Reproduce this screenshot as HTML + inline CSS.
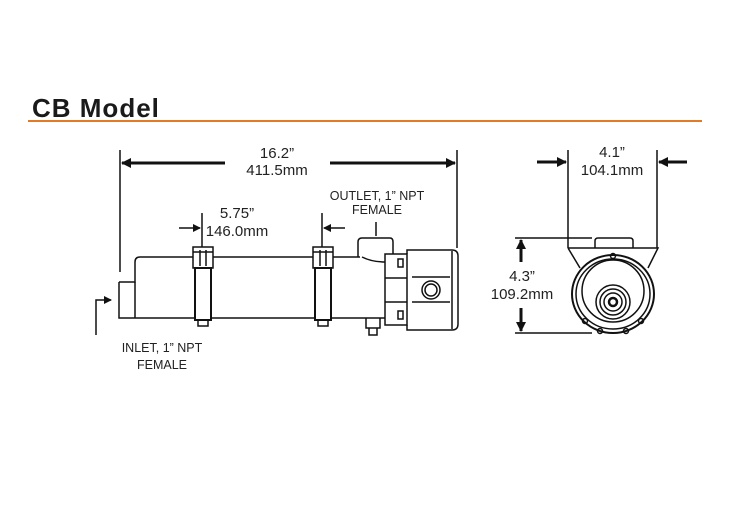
<!DOCTYPE html>
<html><head><meta charset="utf-8"><style>
html,body{margin:0;padding:0;background:#fff;}
svg{display:block;}
text{font-family:"Liberation Sans",sans-serif;fill:#222;}
</style></head><body>
<svg width="750" height="522" viewBox="0 0 750 522" xmlns="http://www.w3.org/2000/svg">
<defs>
<marker id="ah" markerWidth="10" markerHeight="10" refX="9" refY="5" orient="auto" markerUnits="userSpaceOnUse">
<path d="M0,0 L10,5 L0,10 z" fill="#111"/></marker>
<marker id="as" markerWidth="8" markerHeight="8" refX="7" refY="4" orient="auto" markerUnits="userSpaceOnUse">
<path d="M0,0 L8,4 L0,8 z" fill="#111"/></marker>
</defs>
<text x="32" y="117" font-size="26" font-weight="bold" style="fill:#1a1a1a;letter-spacing:1px">CB Model</text>
<line x1="28" y1="121" x2="702" y2="121" stroke="#e07b28" stroke-width="2"/>

<g stroke="#111" fill="none" stroke-width="1.5">
<!-- overall dims -->
<line x1="120" y1="150" x2="120" y2="272"/>
<line x1="457" y1="150" x2="457" y2="248"/>
<line x1="225" y1="163" x2="122" y2="163" stroke-width="3" marker-end="url(#ah)"/>
<line x1="330" y1="163" x2="455" y2="163" stroke-width="3" marker-end="url(#ah)"/>
<!-- 5.75 dims -->
<line x1="202" y1="213" x2="202" y2="247"/>
<line x1="322" y1="213" x2="322" y2="247"/>
<line x1="179" y1="228" x2="200" y2="228" marker-end="url(#as)"/>
<line x1="345" y1="228" x2="324" y2="228" marker-end="url(#as)"/>
<!-- outlet tick -->
<line x1="376" y1="222" x2="376" y2="236"/>
<!-- inlet -->
<polyline points="96,335 96,300 111,300" marker-end="url(#as)"/>
<!-- body -->
<path d="M119,282 L135,282 L135,262 Q135,257 140,257 L360,257 M119,282 L119,318 L385,318"/>
<path d="M358,257 L358,242 Q358,238 362,238 L390,238 Q393,238 393,242 L393,254"/>
<path d="M362,257 Q372,262 385,262"/>
<line x1="135" y1="282" x2="135" y2="318"/>
<!-- clamps -->
<rect x="193" y="247" width="20" height="21" fill="#fff"/>
<line x1="200" y1="250" x2="200" y2="266"/><line x1="206" y1="250" x2="206" y2="266"/>
<line x1="193" y1="252" x2="213" y2="252"/>
<rect x="195" y="268" width="16" height="52" fill="#fff" stroke-width="2"/>
<path d="M198,320 L198,326 L208,326 L208,320"/>
<rect x="313" y="247" width="20" height="21" fill="#fff"/>
<line x1="320" y1="250" x2="320" y2="266"/><line x1="326" y1="250" x2="326" y2="266"/>
<line x1="313" y1="252" x2="333" y2="252"/>
<rect x="315" y="268" width="16" height="52" fill="#fff" stroke-width="2"/>
<path d="M318,320 L318,326 L328,326 L328,320"/>
<!-- flange -->
<rect x="385" y="254" width="22" height="71" fill="#fff"/>
<line x1="385" y1="278" x2="407" y2="278"/><line x1="385" y1="302" x2="407" y2="302"/>
<rect x="398" y="259" width="5" height="8"/><rect x="398" y="311" width="5" height="8"/>
<path d="M407,254 L407,250 L452,250 Q458,250 458,256 L458,324 Q458,330 452,330 L407,330 L407,325"/>
<line x1="452" y1="251" x2="452" y2="329"/>
<line x1="412" y1="277" x2="450" y2="277"/><line x1="412" y1="302" x2="450" y2="302"/>
<circle cx="431" cy="290" r="9"/><circle cx="431" cy="290" r="6"/>
<path d="M366,318 L366,328 L380,328 L380,318 M369,328 L369,335 L377,335 L377,328"/>

<!-- right view dims -->
<line x1="568" y1="150" x2="568" y2="248"/>
<line x1="657" y1="150" x2="657" y2="248"/>
<line x1="537" y1="162" x2="566" y2="162" stroke-width="3" marker-end="url(#ah)"/>
<line x1="687" y1="162" x2="659" y2="162" stroke-width="3" marker-end="url(#ah)"/>
<line x1="515" y1="238" x2="592" y2="238"/>
<line x1="515" y1="333" x2="592" y2="333"/>
<line x1="521" y1="262" x2="521" y2="240" stroke-width="3" marker-end="url(#ah)"/>
<line x1="521" y1="308" x2="521" y2="331" stroke-width="3" marker-end="url(#ah)"/>
<!-- right view device -->
<path d="M595,248 L595,241 Q595,238 598,238 L630,238 Q633,238 633,241 L633,248"/>
<path d="M568,248 L658,248 L648,268 M568,248 L580,268"/>
<ellipse cx="613" cy="294" rx="41" ry="39" stroke-width="2"/>
<ellipse cx="613" cy="294" rx="37" ry="35"/>
<circle cx="613" cy="291" r="31"/>
<circle cx="613" cy="302" r="17"/><circle cx="613" cy="302" r="13"/>
<circle cx="613" cy="302" r="9"/><circle cx="613" cy="302" r="4" stroke-width="2.5"/>
<circle cx="613" cy="256" r="2.5"/><circle cx="585" cy="321" r="2.5"/><circle cx="641" cy="321" r="2.5"/>
<circle cx="600" cy="331" r="2.5"/><circle cx="626" cy="331" r="2.5"/>
</g>

<g font-size="15" text-anchor="middle">
<text x="277" y="158">16.2”</text>
<text x="277" y="175">411.5mm</text>
<text x="237" y="218">5.75”</text>
<text x="237" y="236">146.0mm</text>
<text x="612" y="157">4.1”</text>
<text x="612" y="175">104.1mm</text>
<text x="522" y="281">4.3”</text>
<text x="522" y="299">109.2mm</text>
</g>
<g font-size="12.5" text-anchor="middle">
<text x="377" y="200">OUTLET, 1” NPT</text>
<text x="377" y="214">FEMALE</text>
<text x="162" y="352">INLET, 1” NPT</text>
<text x="162" y="369">FEMALE</text>
</g>
</svg>
</body></html>
